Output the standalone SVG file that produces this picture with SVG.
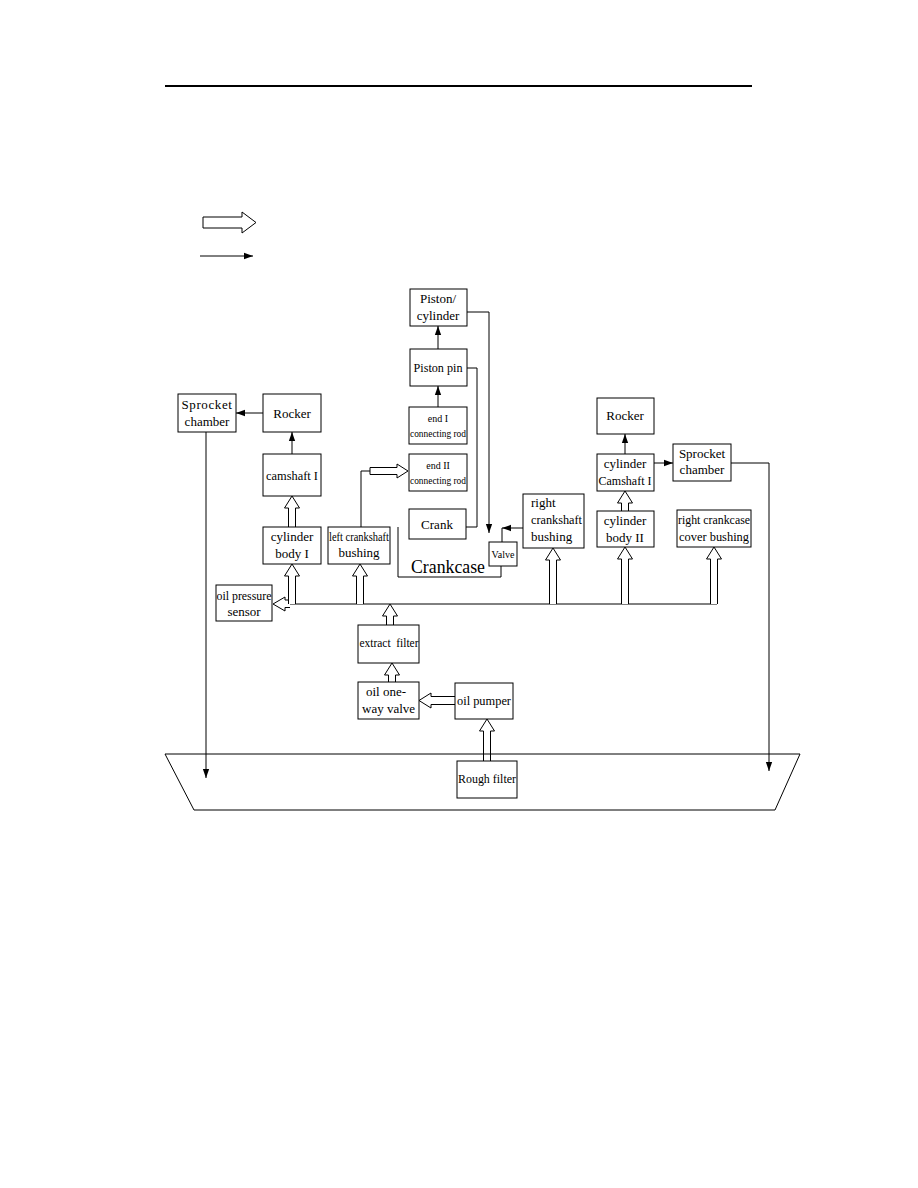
<svg xmlns="http://www.w3.org/2000/svg" width="918" height="1188" viewBox="0 0 918 1188">
<style>
.box{fill:#fff;stroke:#000;stroke-width:1}
.ln{fill:none;stroke:#000;stroke-width:1}
.ho{fill:#fff;stroke:#000;stroke-width:1}
text{font-family:"Liberation Serif","Times New Roman",serif;font-size:13px;fill:#000}
.c{text-anchor:middle}
.s{font-size:10px}
</style>
<defs>
<marker id="ah" viewBox="0 0 10 10" refX="10" refY="5" markerWidth="9" markerHeight="9" markerUnits="userSpaceOnUse" orient="auto">
<path d="M0,1.5 L10,5 L0,8.5 Z" fill="#000"/>
</marker>
</defs>
<rect width="918" height="1188" fill="#fff"/>
<line x1="165" y1="86" x2="752" y2="86" stroke="#000" stroke-width="2"/>
<g id="legend">
<polygon class="ho" points="203,217 242,217 242,212 256,222.5 242,233 242,228 203,228"/>
<line class="ln" x1="200" y1="256" x2="253" y2="256" marker-end="url(#ah)"/>
</g>
<g id="connectors">
<line class="ln" x1="263" y1="413" x2="236" y2="413" marker-end="url(#ah)"/>
<line class="ln" x1="292" y1="454" x2="292" y2="432" marker-end="url(#ah)"/>
<polyline class="ln" points="206,432 206,778" marker-end="url(#ah)"/>
<line class="ln" x1="438" y1="349" x2="438" y2="326" marker-end="url(#ah)"/>
<line class="ln" x1="438" y1="407" x2="438" y2="386" marker-end="url(#ah)"/>
<polyline class="ln" points="467,312 489,312 489,533" marker-end="url(#ah)"/>
<polyline class="ln" points="467,368 477,368 477,527 466,527"/>
<polyline class="ln" points="398,527 398,577 501,577 501,566"/>
<line class="ln" x1="523" y1="528" x2="502" y2="528" marker-end="url(#ah)"/>
<line class="ln" x1="502" y1="528" x2="502" y2="542"/>
<line class="ln" x1="625" y1="454" x2="625" y2="434" marker-end="url(#ah)"/>
<line class="ln" x1="654" y1="463" x2="673" y2="463" marker-end="url(#ah)"/>
<polyline class="ln" points="731,463 769,463 769,771" marker-end="url(#ah)"/>
<polyline class="ln" points="361,527 361,471 370,471"/>
<polygon class="ho" points="370,467.5 397,467.5 397,464 408,471 397,478 397,474.5 370,474.5"/>
<line class="ln" x1="288" y1="604" x2="717" y2="604"/>
<polyline class="ho" points="290,600 285,600 285,597 273,604 285,611 285,607.5 290,607.5"/>
<polyline class="ho" points="288.5,604 288.5,576 284.5,576 292,564 299.5,576 295.5,576 295.5,604"/>
<polyline class="ho" points="288.5,527 288.5,508 284.5,508 292,496 299.5,508 295.5,508 295.5,527"/>
<polyline class="ho" points="356.5,604 356.5,576 352.5,576 360,564 367.5,576 363.5,576 363.5,604"/>
<polyline class="ho" points="549.5,604 549.5,560 545.5,560 553,548 560.5,560 556.5,560 556.5,604"/>
<polyline class="ho" points="621.5,604 621.5,559 617.5,559 625,547 632.5,559 628.5,559 628.5,604"/>
<polyline class="ho" points="621.5,511 621.5,503 617.5,503 625,491 632.5,503 628.5,503 628.5,511"/>
<polyline class="ho" points="710.5,604 710.5,559 706.5,559 714,547 721.5,559 717.5,559 717.5,604"/>
<polyline class="ho" points="386.5,625 386.5,616 382.5,616 390,604 397.5,616 393.5,616 393.5,625"/>
<polyline class="ho" points="388.5,682 388.5,675 384.5,675 392,663 399.5,675 395.5,675 395.5,682"/>
<polyline class="ho" points="455,696.5 431,696.5 431,693 419,700.5 431,708 431,704.5 455,704.5"/>
<polyline class="ho" points="483.5,761 483.5,731 479.5,731 487,719 494.5,731 490.5,731 490.5,761"/>
</g>
<g id="basin">
<polygon points="165,754 800,754 775,810 194,810" fill="none" stroke="#000" stroke-width="1"/>
</g>
<g id="sprocket-left"><rect class="box" x="178" y="394" width="58" height="38"/><text x="207" y="409" class="c" font-size="12" letter-spacing="0.6">Sprocket</text><text x="207" y="426" class="c" font-size="12">chamber</text></g>
<g id="rocker-left"><rect class="box" x="263" y="394" width="58" height="38"/><text x="292" y="418" class="c" font-size="14">Rocker</text></g>
<g id="camshaft1"><rect class="box" x="263" y="454" width="58" height="42"/><text x="292" y="480" class="c" textLength="52" lengthAdjust="spacingAndGlyphs">camshaft I</text></g>
<g id="cylbody1"><rect class="box" x="263" y="527" width="58" height="37"/><text x="292" y="541" class="c" font-size="14">cylinder</text><text x="292" y="558" class="c" font-size="14">body I</text></g>
<g id="leftbushing"><rect class="box" x="328" y="527" width="62" height="37"/><text x="359" y="541" class="c" font-size="12" textLength="60" lengthAdjust="spacingAndGlyphs">left crankshaft</text><text x="359" y="557" class="c" font-size="12">bushing</text></g>
<g id="oilpressure"><rect class="box" x="216" y="585" width="56" height="36"/><text x="244" y="600" class="c" textLength="55" lengthAdjust="spacingAndGlyphs">oil pressure</text><text x="244" y="616" class="c">sensor</text></g>
<g id="piston-cyl"><rect class="box" x="410" y="289" width="57" height="37"/><text x="438" y="303" class="c">Piston/</text><text x="438" y="320" class="c">cylinder</text></g>
<g id="pistonpin"><rect class="box" x="410" y="349" width="57" height="37"/><text x="438" y="372" class="c" textLength="49" lengthAdjust="spacingAndGlyphs">Piston pin</text></g>
<g id="end1"><rect class="box" x="409" y="407" width="58" height="37"/><text x="438" y="422" class="c s">end I</text><text x="438" y="437" class="c s" textLength="56" lengthAdjust="spacingAndGlyphs">connecting rod</text></g>
<g id="end2"><rect class="box" x="409" y="454" width="58" height="37"/><text x="438" y="469" class="c s">end II</text><text x="438" y="484" class="c s" textLength="56" lengthAdjust="spacingAndGlyphs">connecting rod</text></g>
<g id="crank"><rect class="box" x="409" y="509" width="57" height="30"/><text x="437" y="529" class="c">Crank</text></g>
<g id="crankcase"><text transform="translate(411,573) scale(1,1.45)" x="0" y="0" font-size="15" textLength="74" lengthAdjust="spacingAndGlyphs">Crankcase</text></g>
<g id="valve"><rect class="box" x="489" y="542" width="28" height="24"/><text x="503" y="558" class="c s">Valve</text></g>
<g id="rightbushing"><rect class="box" x="523" y="494" width="61" height="54"/><text x="531" y="507">right</text><text x="531" y="524" textLength="51" lengthAdjust="spacingAndGlyphs">crankshaft</text><text x="531" y="541">bushing</text></g>
<g id="rocker-right"><rect class="box" x="597" y="398" width="57" height="36"/><text x="625" y="420" class="c" font-size="14">Rocker</text></g>
<g id="cylcam1"><rect class="box" x="597" y="454" width="57" height="37"/><text x="625" y="468" class="c">cylinder</text><text x="625" y="485" class="c" textLength="53" lengthAdjust="spacingAndGlyphs">Camshaft I</text></g>
<g id="sprocket-right"><rect class="box" x="673" y="444" width="58" height="37"/><text x="702" y="458" class="c">Sprocket</text><text x="702" y="474" class="c">chamber</text></g>
<g id="cylbody2"><rect class="box" x="597" y="511" width="57" height="36"/><text x="625" y="525" class="c">cylinder</text><text x="625" y="542" class="c">body II</text></g>
<g id="rightcover"><rect class="box" x="677" y="510" width="74" height="37"/><text x="714" y="524" class="c" textLength="72" lengthAdjust="spacingAndGlyphs">right crankcase</text><text x="714" y="541" class="c" textLength="70" lengthAdjust="spacingAndGlyphs">cover bushing</text></g>
<g id="extract"><rect class="box" x="358" y="625" width="61" height="38"/><text x="389" y="647" class="c" xml:space="preserve" textLength="59" lengthAdjust="spacingAndGlyphs">extract  filter</text></g>
<g id="oneway"><rect class="box" x="358" y="682" width="61" height="37"/><text x="366" y="696">oil one-</text><text x="362" y="713">way valve</text></g>
<g id="pumper"><rect class="box" x="455" y="683" width="58" height="36"/><text x="484" y="705" class="c" textLength="54" lengthAdjust="spacingAndGlyphs">oil pumper</text></g>
<g id="roughfilter"><rect class="box" x="457" y="761" width="60" height="37"/><text x="487" y="783" class="c" textLength="58" lengthAdjust="spacingAndGlyphs">Rough filter</text></g>
</svg>
